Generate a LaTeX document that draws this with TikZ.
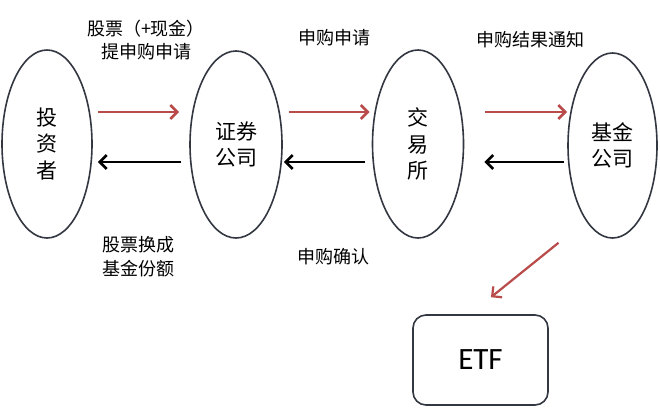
\documentclass[tikz,border=0pt]{standalone}
\usepackage{fontspec}
\setmainfont{Carlito}
\newfontfamily\cjk{Noto Sans CJK SC}
\usetikzlibrary{shapes.geometric,arrows.meta}
\definecolor{arrred}{RGB}{185,75,75}
\definecolor{edge}{RGB}{50,55,65}
\tikzset{
  party/.style={ellipse,draw=edge,line width=1.6pt,inner sep=0pt,align=center,
    font=\cjk\fontsize{21}{26.5}\selectfont},
  lbl/.style={align=center,inner sep=0pt,font=\cjk\fontsize{18}{23.5}\selectfont},
  redarr/.style={draw=arrred,line width=2.7pt,-{Straight Barb[length=7pt,width=14pt]}},
  blkarr/.style={draw=black,line width=2.7pt,-{Straight Barb[length=7pt,width=14pt]}},
}
\begin{document}
\begin{tikzpicture}[x=1pt,y=-1pt]
\useasboundingbox[fill=white] (0,0) rectangle (660,407);
\node[party,minimum width=90pt,minimum height=188pt] (inv) at (47,144) {投\\资\\者};
\node[party,minimum width=92pt,minimum height=187pt] (sec) at (236,144.5) {证券\\公司};
\node[party,minimum width=91pt,minimum height=188pt] (exc) at (418,144) {交\\易\\所};
\node[party,minimum width=89pt,minimum height=185pt] (fund) at (612.5,145.5) {基金\\公司};
\node[draw=edge,line width=1.6pt,rounded corners=13pt,minimum width=135pt,minimum height=90pt,
  inner sep=0pt,font=\fontsize{31}{36}\selectfont] (etf) at (480.5,360) {ETF};

\node[lbl] (l1) at (146,40) {股票（+现金）\\提申购申请};
\node[lbl] (l2) at (334,38) {申购申请};
\node[lbl] (l3) at (530,40) {申购结果通知};
\node[lbl] (l4) at (138,256.5) {股票换成\\基金份额};
\node[lbl] (l5) at (333,257) {申购确认};

\draw[redarr] ([shift={(5,-32)}]inv.east) -- ([shift={(-10,-32.5)}]sec.west);
\draw[blkarr] ([shift={(-8,17.5)}]sec.west) -- ([shift={(5,18)}]inv.east);
\draw[redarr] ([shift={(6,-32.5)}]sec.east) -- ([shift={(-2,-32)}]exc.west);
\draw[blkarr] ([shift={(-7,18)}]exc.west) -- ([shift={(1,17.5)}]sec.east);
\draw[redarr] ([shift={(21,-32)}]exc.east) -- ([shift={(0,-33.5)}]fund.west);
\draw[blkarr] ([shift={(-3,16.5)}]fund.west) -- ([shift={(20,18)}]exc.east);
\draw[redarr,line width=2.2pt] ([shift={(-54,4)}]fund.south) -- ([shift={(10.5,-17)}]etf.north);
\end{tikzpicture}
\end{document}
